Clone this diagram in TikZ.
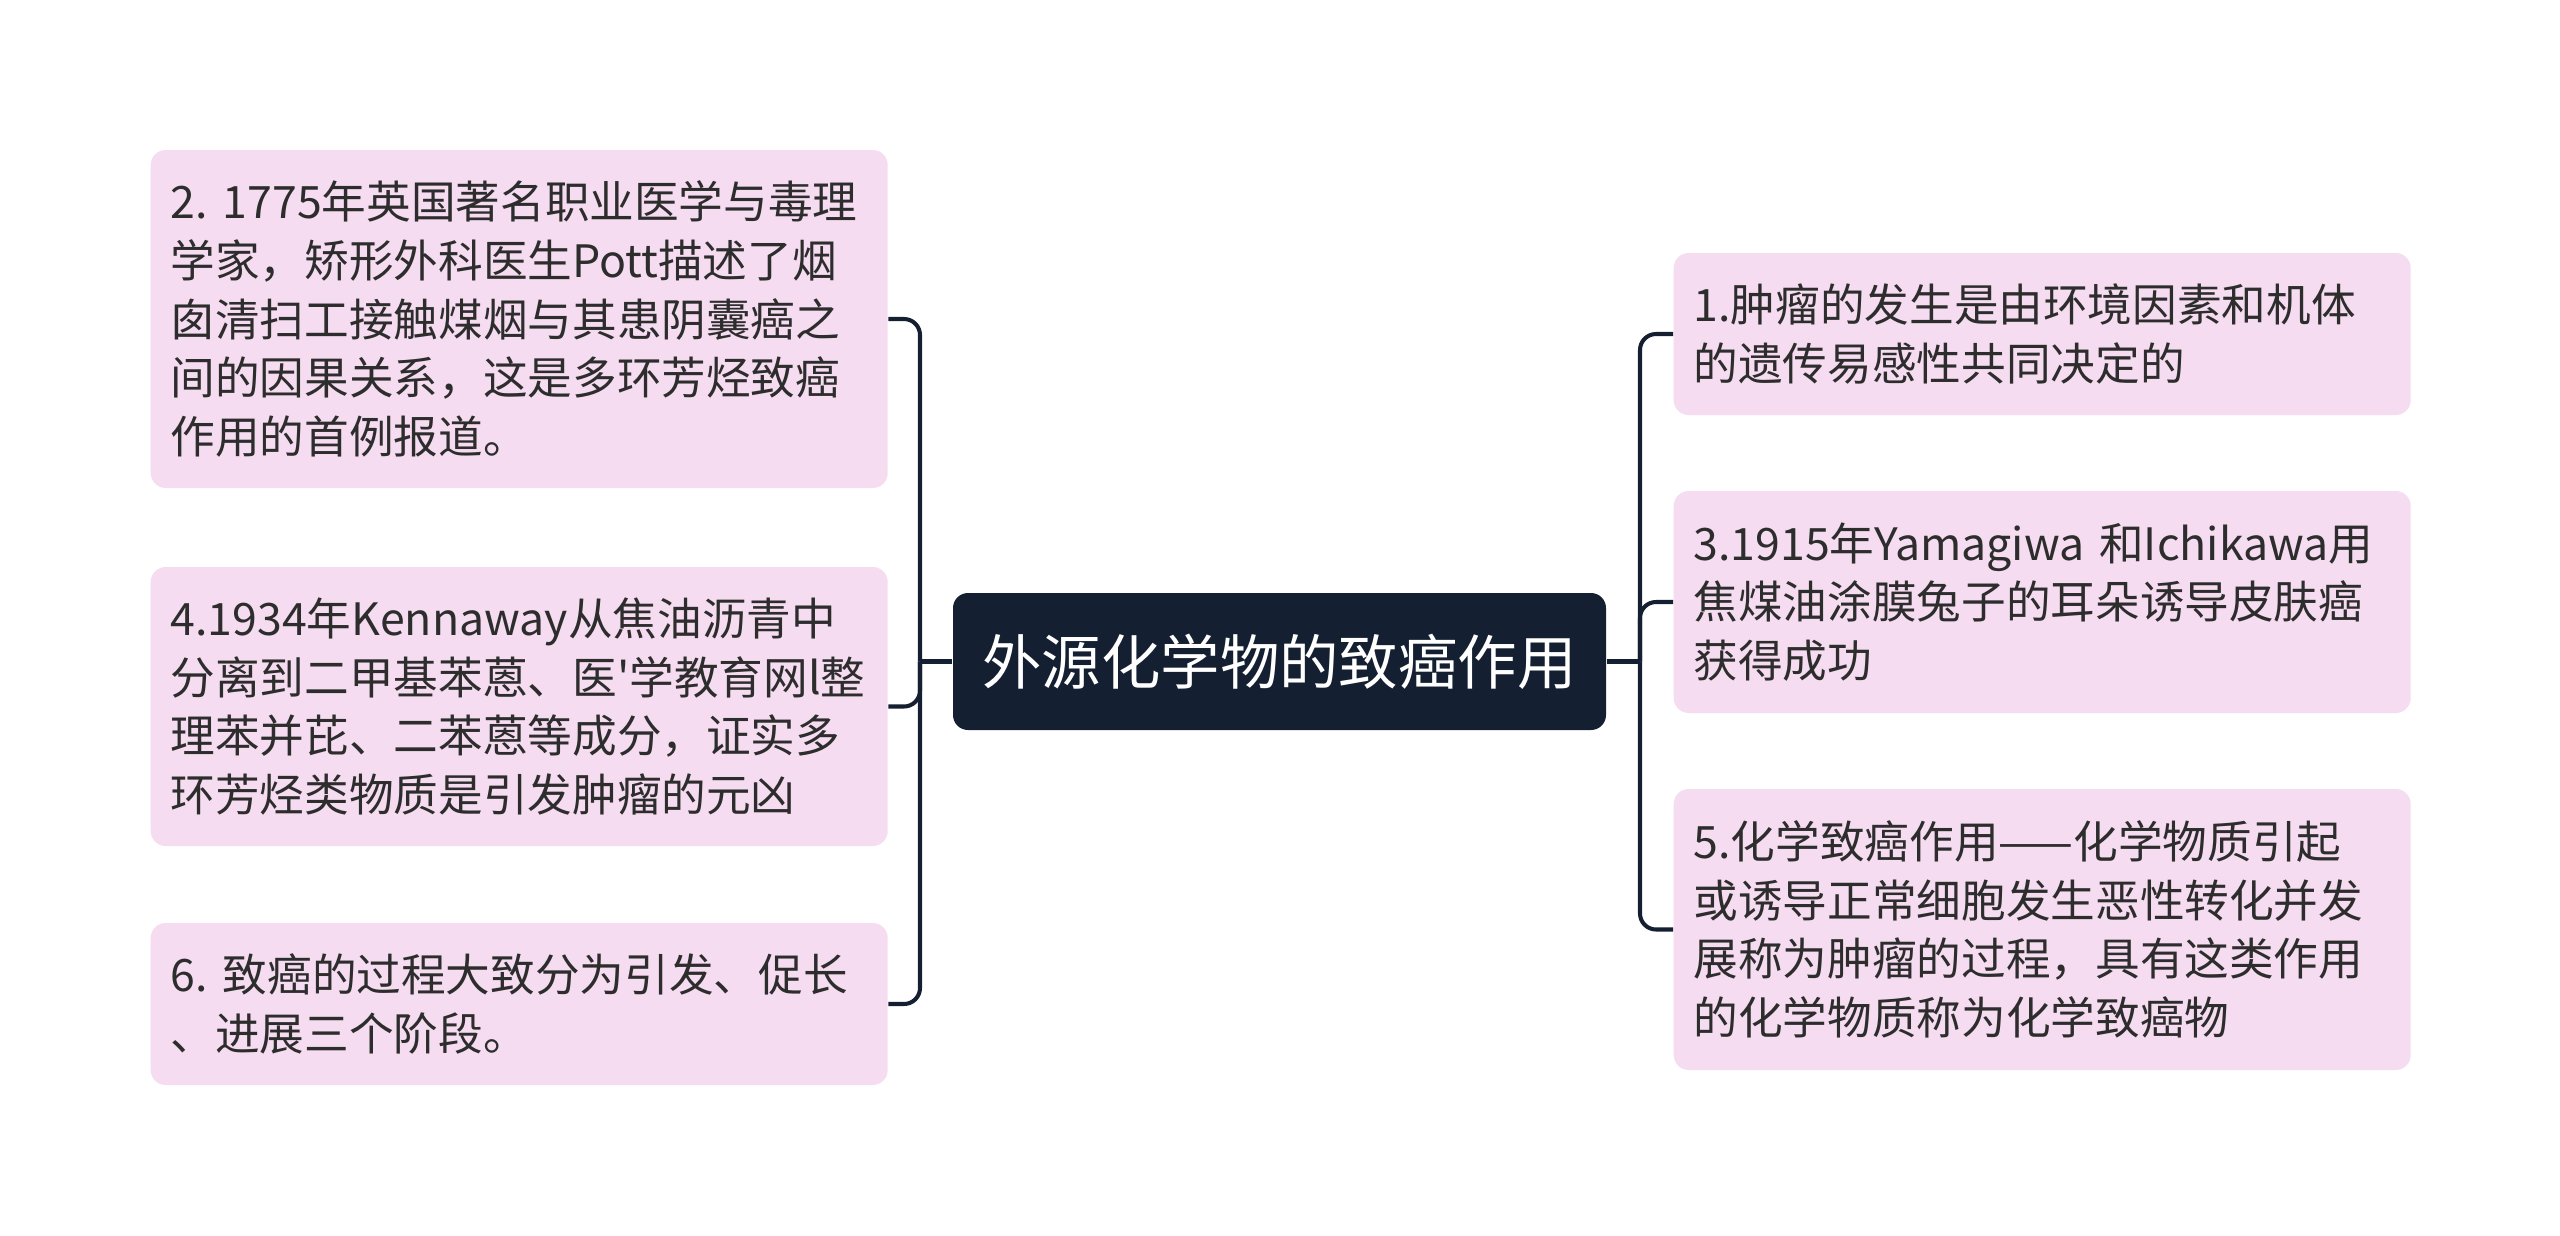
\documentclass[tikz,border=0pt]{standalone}
\usepackage{fontspec}
\newfontfamily\cjk{Noto Sans CJK SC}
\definecolor{boxpink}{HTML}{F5DCF0}
\definecolor{rootblue}{HTML}{142032}
\definecolor{txtgray}{HTML}{2D2D2D}
\frenchspacing

\begin{document}
\begin{tikzpicture}[
  leaf/.style={fill=boxpink, rounded corners=0.15cm, text=txtgray,
    font=\cjk\fontsize{12.7}{16.7}\selectfont, align=left,
    text width=6.97cm, inner xsep=0.2cm, inner ysep=0pt, anchor=west},
  root/.style={fill=rootblue, rounded corners=0.15cm, text=white,
    font=\cjk\fontsize{16.9}{20}\selectfont,
    minimum width=6.53cm, minimum height=1.37cm},
  link/.style={draw=rootblue, line width=1.15pt, rounded corners=0.16cm}
]

\fill[white] (0,0) rectangle (25.6,-12.35);

\node[root] (main) at (12.795,-6.615) {外源化学物的致癌作用};

% left side
\node[leaf, minimum height=3.38cm] (n2) at (1.50,-3.19)
  {2. 1775年英国著名职业医学与毒理\\学家，矫形外科医生Pott描述了烟\\囱清扫工接触煤烟与其患阴囊癌之\\间的因果关系，这是多环芳烃致癌\\作用的首例报道。};
\node[leaf, minimum height=2.79cm] (n4) at (1.50,-7.065)
  {4.1934年Kennaway从焦油沥青中\\分离到二甲基苯蒽、医'学教育网l整\\理苯并芘、二苯蒽等成分，证实多\\环芳烃类物质是引发肿瘤的元凶};
\node[leaf, minimum height=1.62cm] (n6) at (1.50,-10.04)
  {6. 致癌的过程大致分为引发、促长\\、进展三个阶段。};

% right side
\node[leaf, minimum height=1.62cm] (n1) at (16.73,-3.34)
  {1.肿瘤的发生是由环境因素和机体\\的遗传易感性共同决定的};
\node[leaf, minimum height=2.22cm] (n3) at (16.73,-6.02)
  {3.1915年Yamagiwa 和Ichikawa用\\焦煤油涂膜兔子的耳朵诱导皮肤癌\\获得成功};
\node[leaf, minimum height=2.81cm] (n5) at (16.73,-9.295)
  {5.化学致癌作用——化学物质引起\\或诱导正常细胞发生恶性转化并发\\展称为肿瘤的过程，具有这类作用\\的化学物质称为化学致癌物};

\coordinate (lj) at (9.20,-6.615);
\coordinate (rj) at (16.40,-6.615);

\draw[link] (main.west) -- (lj);
\draw[link] (main.east) -- (rj);
\foreach \n in {n2,n4,n6}
  \draw[link] (lj) |- (\n.east);
\foreach \n in {n1,n3,n5}
  \draw[link] (rj) |- (\n.west);
\end{tikzpicture}
\end{document}
